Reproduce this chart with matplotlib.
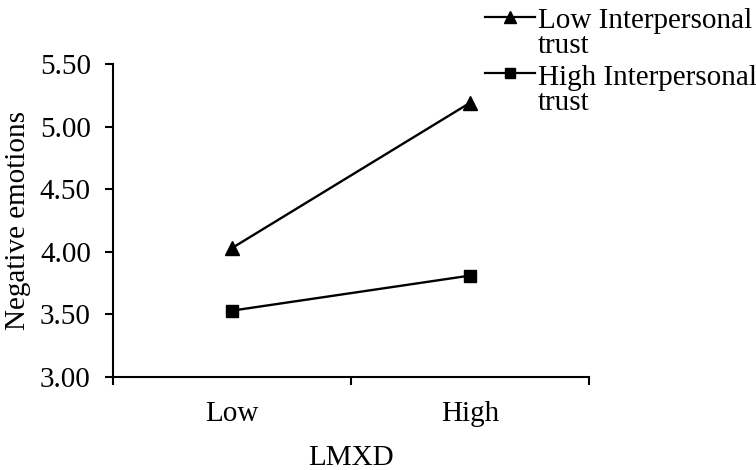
import matplotlib
matplotlib.use("Agg")
import matplotlib.pyplot as plt
from matplotlib.lines import Line2D

plt.rcParams['font.family'] = ['Liberation Serif', 'DejaVu Serif']

categories = ["Low", "High"]
low_trust = [4.03, 5.19]
high_trust = [3.53, 3.81]
series_labels = ["Low Interpersonal\ntrust", "High Interpersonal\ntrust"]
yticks = [3.00, 3.50, 4.00, 4.50, 5.00, 5.50]

FS = 21
W, H = 756, 470
fig = plt.figure(figsize=(W / 100, H / 100), dpi=100)
ax = fig.add_axes([113 / W, 1 - 377 / H, (589 - 113) / W, (377 - 64) / H])

x = list(range(len(categories)))
ax.plot(x, low_trust, color='black', lw=1.7, marker='^', ms=9.5, zorder=3)
ax.plot(x, high_trust, color='black', lw=1.7, marker='s', ms=8.5, zorder=3)

ax.set_xlim(-0.5, len(categories) - 0.5)
ax.set_ylim(3.0, 5.5)
ax.set_yticks(yticks)
ax.set_yticklabels([f"{v:.2f}" for v in yticks])
ax.set_xticks([i - 0.5 for i in range(len(categories) + 1)])
ax.set_xticklabels([])
ax.set_xticks(x, minor=True)
ax.set_xticklabels(categories, minor=True)

for s in ['top', 'right']:
    ax.spines[s].set_visible(False)
for s in ['left', 'bottom']:
    ax.spines[s].set_linewidth(1.5)
    ax.spines[s].set_color('black')

ax.tick_params(axis='y', which='major', direction='out', length=6, width=1.5,
               labelsize=FS, pad=10)
ax.tick_params(axis='x', which='major', direction='out', length=6, width=1.5)
ax.tick_params(axis='x', which='minor', length=0, labelsize=FS, pad=17)

ax.set_ylabel("Negative emotions", fontsize=FS, labelpad=6)
ax.set_xlabel("LMXD", fontsize=FS, labelpad=13)

# legend (manual, handle aligned with first label line)
markers = ['^', 's']
msz = [8, 7.5]
handle_y = [17, 73]
text_last_base = [53, 110]
for i, lab in enumerate(series_labels):
    yy = 1 - handle_y[i] / H
    fig.add_artist(Line2D([485 / W, 535 / W], [yy, yy], transform=fig.transFigure,
                          color='black', lw=1.6))
    fig.add_artist(Line2D([510 / W], [yy], transform=fig.transFigure,
                          color='black', marker=markers[i], ms=msz[i], lw=0))
    fig.text(538 / W, 1 - text_last_base[i] / H, lab, fontsize=FS, va='baseline',
             ha='left', linespacing=0.95, transform=fig.transFigure)

fig.savefig("out.png", dpi=100)
